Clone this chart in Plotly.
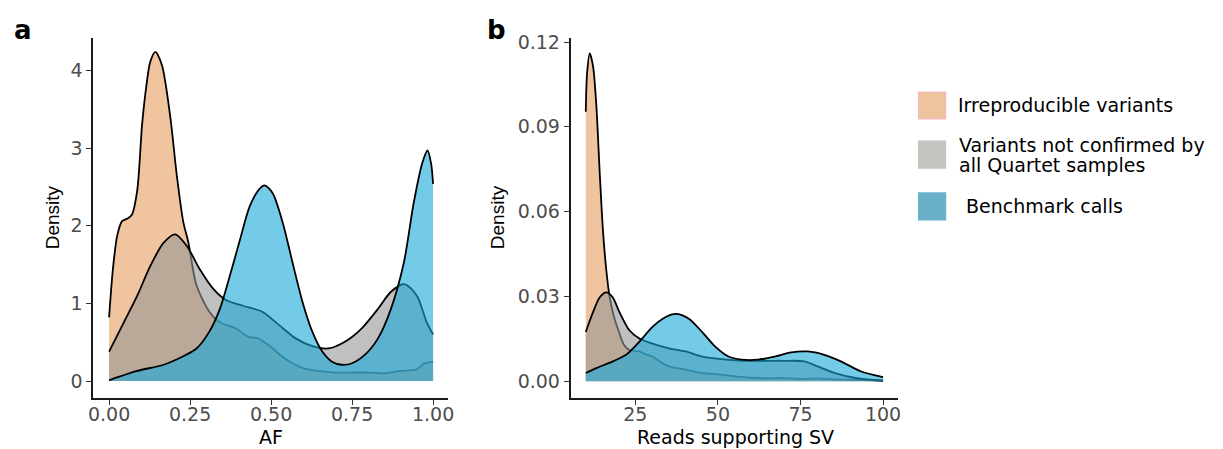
import plotly.graph_objects as go

W, H = 1223, 449

# ---------------- data ----------------
series_names = ["Irreproducible variants",
                "Variants not confirmed by<br>all Quartet samples",
                "Benchmark calls"]

# Panel a : AF density
af_irr_x = [0.00, 0.012, 0.025, 0.04, 0.055, 0.07, 0.087, 0.102, 0.115, 0.127, 0.143, 0.163,
            0.189, 0.209, 0.229, 0.245, 0.27, 0.31, 0.34, 0.39, 0.43, 0.46, 0.49, 0.546,
            0.596, 0.647, 0.70, 0.75, 0.80, 0.85, 0.90, 0.95, 0.97, 1.00]
af_irr_y = [0.82, 1.45, 1.87, 2.06, 2.09, 2.14, 2.46, 3.31, 3.80, 4.11, 4.24, 4.07,
            3.40, 2.65, 2.05, 1.78, 1.23, 0.89, 0.76, 0.68, 0.57, 0.55, 0.47, 0.28,
            0.17, 0.13, 0.11, 0.11, 0.11, 0.10, 0.13, 0.15, 0.22, 0.25]

af_nc_x = [0.00, 0.046, 0.087, 0.127, 0.168, 0.204, 0.24, 0.28, 0.321, 0.362, 0.413, 0.474,
           0.525, 0.576, 0.627, 0.677, 0.729, 0.78, 0.83, 0.87, 0.911, 0.95, 0.98, 1.00]
af_nc_y = [0.38, 0.76, 1.10, 1.48, 1.78, 1.89, 1.74, 1.44, 1.19, 1.04, 0.97, 0.89,
           0.72, 0.55, 0.45, 0.42, 0.51, 0.68, 0.93, 1.15, 1.25, 1.10, 0.76, 0.60]

af_bm_x = [0.00, 0.087, 0.168, 0.229, 0.27, 0.31, 0.342, 0.373, 0.404, 0.434, 0.465, 0.48,
           0.505, 0.536, 0.566, 0.597, 0.627, 0.658, 0.688, 0.718, 0.75, 0.79, 0.83, 0.87,
           0.91, 0.94, 0.966, 0.983, 0.994, 1.00]
af_bm_y = [0.01, 0.13, 0.21, 0.32, 0.42, 0.64, 0.93, 1.36, 1.82, 2.25, 2.48, 2.52,
           2.42, 2.04, 1.53, 1.02, 0.64, 0.38, 0.25, 0.21, 0.23, 0.34, 0.55, 0.93,
           1.53, 2.29, 2.80, 2.97, 2.80, 2.54]

# Panel b : reads supporting SV density
rd_irr_x = [10, 10.4, 11.2, 12.2, 13.2, 14.2, 15.2, 16.2, 17.2, 18.5, 19.7, 21.5, 23.2,
            26.2, 28, 30.2, 33, 35.2, 40.2, 45.1, 50.2, 55.2, 60.2, 65, 70, 75, 80,
            85, 90, 95, 100]
rd_irr_y = [0.0953, 0.109, 0.116, 0.1115, 0.0976, 0.0743, 0.0534, 0.0395, 0.030, 0.023,
            0.0186, 0.013, 0.011, 0.0105, 0.0095, 0.0087, 0.0065, 0.0052, 0.0041, 0.0029,
            0.0024, 0.0017, 0.0012, 0.0010, 0.0011, 0.0008, 0.0010, 0.0006, 0.0005,
            0.0004, 0.0003]

rd_nc_x = [10, 12.2, 14.2, 16.2, 18.2, 20.2, 23.2, 26.2, 30.2, 35.2, 40.2, 45.2, 50.2,
           56.2, 63.2, 70.2, 76.2, 80.2, 85.2, 91.2, 100]
rd_nc_y = [0.0174, 0.0244, 0.0296, 0.0314, 0.0296, 0.0244, 0.018, 0.0151, 0.0133, 0.0116,
           0.0105, 0.0087, 0.0079, 0.0073, 0.0072, 0.0072, 0.0070, 0.0052, 0.0029, 0.0012,
           0.0001]

rd_bm_x = [10, 13.2, 18.2, 22.2, 26.2, 30.2, 34.2, 37.2, 41.2, 45.2, 49.2, 53.2, 57.2,
           62.2, 67.2, 72.2, 77.2, 82.2, 87.2, 93.2, 100]
rd_bm_y = [0.0029, 0.0046, 0.0070, 0.0093, 0.0139, 0.0192, 0.0227, 0.0238, 0.0221, 0.0174,
           0.0122, 0.0087, 0.0076, 0.0076, 0.0087, 0.0102, 0.0105, 0.0093, 0.0070, 0.0035,
           0.0014]

af_ticks = [0, 0.25, 0.5, 0.75, 1.0]
af_ticktext = ["0.00", "0.25", "0.50", "0.75", "1.00"]
af_yticks = [0, 1, 2, 3, 4]
rd_ticks = [25, 50, 75, 100]
rd_yticks = [0, 0.03, 0.06, 0.09, 0.12]
rd_yticktext = ["0.00", "0.03", "0.06", "0.09", "0.12"]

# ---------------- styles ----------------
fills = ["rgba(230,157,93,0.6)", "rgba(150,150,150,0.6)", "rgba(23,168,217,0.6)"]
legend_fill = ["#EEC49D", "#C4C4C0", "#6AB0C8"]
legend_edge = ["#F4B9B9", "#C4C4C0", "#6AB0C8"]

def px2x(px):
    return px / W

def py2y(py):
    return 1 - py / H

fig = go.Figure()

panels = [
    ("x", "y", [(af_irr_x, af_irr_y), (af_nc_x, af_nc_y), (af_bm_x, af_bm_y)]),
    ("x2", "y2", [(rd_irr_x, rd_irr_y), (rd_nc_x, rd_nc_y), (rd_bm_x, rd_bm_y)]),
]
for xa, ya, data in panels:
    for i, (xs, ys) in enumerate(data):
        fig.add_trace(go.Scatter(
            x=xs, y=ys, xaxis=xa, yaxis=ya, mode="lines",
            line=dict(color="black", width=1.8, shape="spline", smoothing=0.8),
            fill="tozeroy", fillcolor=fills[i], showlegend=False,
            name=series_names[i].replace("<br>", " "), hoverinfo="skip"))

tickfont = dict(family="DejaVu Sans", size=19, color="#4D4D4D")
axis_common = dict(showline=True, linecolor="#1a1a1a", linewidth=1.6, ticks="outside",
                   ticklen=5, tickwidth=1.4, tickcolor="#333333", showgrid=False,
                   zeroline=False, tickfont=tickfont, fixedrange=True)

y_dom = [py2y(397), py2y(31)]
fig.update_layout(
    width=W, height=H, margin=dict(l=0, r=0, t=0, b=0),
    paper_bgcolor="white", plot_bgcolor="white", showlegend=False,
    xaxis=dict(domain=[px2x(89), px2x(447)], range=[-0.049, 1.046], anchor="y",
               tickvals=af_ticks, ticktext=af_ticktext, ticklabelstandoff=-6, **axis_common),
    yaxis=dict(domain=y_dom, range=[-0.2156, 4.425], anchor="x",
               tickvals=af_yticks, ticktext=[str(v) for v in af_yticks], **axis_common),
    xaxis2=dict(domain=[px2x(570.7), px2x(900.7)], range=[5.4, 104.4], anchor="y2",
                tickvals=rd_ticks, ticktext=[str(v) for v in rd_ticks], ticklabelstandoff=-6,
                **axis_common),
    yaxis2=dict(domain=y_dom, range=[-0.0059, 0.1216], anchor="x2",
                tickvals=rd_yticks, ticktext=rd_yticktext, **axis_common),
)

ann = []
title_font = dict(family="DejaVu Sans", size=19, color="black")
dens_font = dict(family="Liberation Sans, Arial", size=19, color="black")
# axis titles
ann.append(dict(text="AF", x=px2x(268), y=py2y(437), xref="paper", yref="paper",
                showarrow=False, xanchor="center", yanchor="middle", font=title_font))
ann.append(dict(text="Reads supporting SV", x=px2x(737), y=py2y(437), xref="paper",
                yref="paper", showarrow=False, xanchor="center", yanchor="middle",
                font=title_font))
for cx in (48, 497):
    ann.append(dict(text="Density", x=px2x(cx), y=py2y(214), xref="paper", yref="paper",
                    showarrow=False, textangle=-90, xanchor="center", yanchor="middle",
                    font=dens_font))
# panel letters
for lab, cx in (("a", 18), ("b", 496)):
    ann.append(dict(text="<b>%s</b>" % lab, x=px2x(cx), y=py2y(23), xref="paper",
                    yref="paper", showarrow=False, xanchor="center", yanchor="middle",
                    font=dict(family="DejaVu Sans", size=26, color="black")))

# custom legend
leg_font = dict(family="DejaVu Sans", size=19, color="black")
sq_centers = [100, 150, 202.5]
text_x = [960, 961, 968]
shapes = []
for i, name in enumerate(series_names):
    cy = sq_centers[i]
    shapes.append(dict(type="rect", xref="paper", yref="paper",
                       x0=px2x(922), x1=px2x(949), y0=py2y(cy + 13.5), y1=py2y(cy - 13.5),
                       fillcolor=legend_fill[i], line=dict(color=legend_edge[i], width=1.5)))
    lines = name.split("<br>")
    if len(lines) == 1:
        ys = [cy]
    else:
        ys = [cy - 10, cy + 10.5]
    for ln, ly in zip(lines, ys):
        ann.append(dict(text=ln, x=px2x(text_x[i]), y=py2y(ly), xref="paper", yref="paper",
                        showarrow=False, xanchor="left", yanchor="middle", font=leg_font))

fig.update_layout(annotations=ann, shapes=shapes)
fig.write_html("out.html")
